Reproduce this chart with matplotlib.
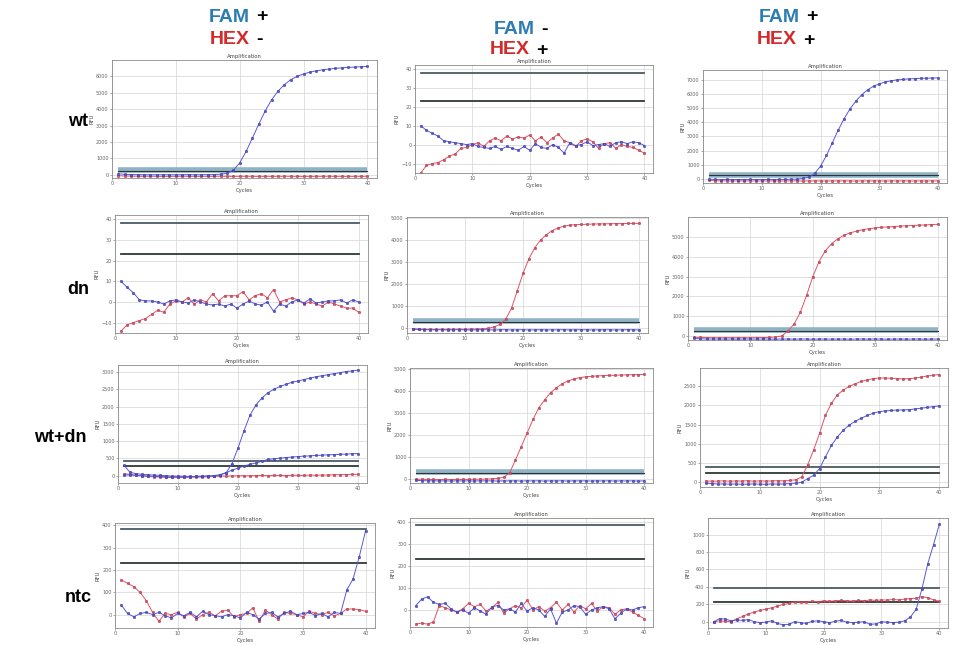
import matplotlib
matplotlib.use("Agg")
import matplotlib.pyplot as plt

# cycles 1..40
cycles = list(range(1, 41))

# ---- row "wt" ----
wt_fam_only_fam = [60, 20, 10, 5, 0, 0, -5, 0, 0, -5, 0, 5, 0, 0, 5, 10, 30, 90, 280, 720,
                   1420, 2250, 3100, 3900, 4580, 5100, 5500, 5800, 6000, 6150,
                   6260, 6340, 6400, 6450, 6490, 6520, 6550, 6570, 6590, 6610]
wt_fam_only_hex = [-60, -80, -90, -95, -100, -95, -100, -105, -100, -100, -95, -100, -100, -105, -100,
                   -100, -95, -100, -100, -100, -95, -100, -105, -100, -100, -100, -95, -100, -100, -105,
                   -100, -100, -100, -95, -100, -100, -105, -100, -100, -100]
wt_hex_only_fam = [10, 7.5, 6, 4.5, 2, 1.5, 1, 0.5, 0, 0.5, -1, -1.5, -2, -1, -2.5, -1, -2, -3, -1, -3,
                   0.5, -1.5, -2, 0, -1.5, -4.5, 1, -0.5, 0, 1.5, -0.5, 0, 0.5, -1, 1, 1.5, 0.5, 1.5, 1, -0.5]
wt_hex_only_hex = [-15, -11, -10, -9.5, -8, -6, -5, -2, -1.5, 0, 1, -1, 2, 3.5, 2, 4.5, 3, 4, 3.5, 5,
                   2, 4, 1, 3.5, 5.5, 2, 1, -1, 2, 3, 1.5, -2, 0.5, 1, -2, 0, -1, -1.5, -3, -4.5]
wt_both_fam = [-30, -50, -60, -50, -60, -55, -60, -50, -55, -60, -50, -55, -50, -45, -40, -20, 20, 110, 380, 900,
               1650, 2550, 3450, 4250, 4950, 5500, 5950, 6300, 6550, 6720,
               6850, 6940, 7000, 7040, 7070, 7090, 7110, 7120, 7130, 7140]
wt_both_hex = [-120, -140, -150, -150, -160, -150, -155, -150, -160, -150, -155, -150, -160, -155, -150,
               -150, -160, -150, -155, -150, -160, -150, -155, -150, -150, -160, -150, -155, -150, -150,
               -160, -150, -155, -150, -150, -160, -150, -155, -150, -150]

# ---- row "dn" ----
dn_fam_only_fam = [10, 7, 4.5, 1, 0.5, 0.5, 0, -1, 0.5, 1, 0, -0.5, 1, 0, -1, -1.5, -1, -2, -1, -3,
                   -1, 0.5, -1, -1.5, 0, -4.5, -1, -2, 0, 1, -0.5, 1.5, -0.5, 0, 0.5, 0.5, 1, -0.5, 1, 0]
dn_fam_only_hex = [-14, -11, -10, -9, -8, -6, -4, -5, -1, 0.5, 0, 2, -1, 1, 0, 4, 0.5, 3, 3, 3,
                   5, 1, 3, 4, 2, 6, 0, 1, 2, 1, -1, 0, -1, -2, 0, -1, -2, -3, -3, -5]
dn_hex_only_fam = [-60, -70, -80, -80, -85, -80, -90, -85, -80, -85, -90, -85, -80, -85, -90,
                   -85, -80, -90, -85, -80, -90, -85, -80, -90, -85, -85, -80, -90, -85, -80,
                   -85, -90, -85, -80, -85, -90, -85, -80, -85, -90]
dn_hex_only_hex = [-40, -50, -60, -60, -65, -60, -65, -60, -55, -60, -50, -45, -40, -20, 50,
                   160, 400, 900, 1700, 2500, 3150, 3650, 4000, 4250, 4430, 4550, 4630, 4680, 4700, 4710,
                   4720, 4730, 4735, 4740, 4745, 4750, 4750, 4755, 4760, 4760]
dn_both_fam = [-120, -140, -150, -150, -150, -155, -150, -160, -150, -150, -155, -150, -150, -160, -150,
               -150, -155, -150, -150, -160, -150, -150, -155, -150, -150, -160, -150, -150, -155, -150,
               -150, -160, -150, -150, -155, -150, -150, -160, -150, -150]
dn_both_hex = [-60, -70, -80, -80, -85, -80, -85, -80, -80, -85, -80, -75, -70, -50, 0,
               250, 600, 1200, 2050, 3000, 3750, 4300, 4650, 4900, 5080, 5200, 5290, 5360, 5410, 5450,
               5480, 5500, 5520, 5540, 5560, 5570, 5590, 5600, 5620, 5630]

# ---- row "wt+dn" ----
wd_fam_only_fam = [300, 100, 60, 40, 30, 20, 10, 0, -10, -10, -15, -20, -20, -15, -10, 0, 20, 80, 350, 800,
                   1300, 1750, 2050, 2250, 2400, 2500, 2580, 2640, 2700, 2740,
                   2780, 2820, 2860, 2890, 2920, 2950, 2980, 3010, 3030, 3050]
wd_fam_only_fam2 = [20, 20, 10, 0, -10, -20, -20, -30, -30, -30, -30, -25, -20, -15, -10, 0, 30, 90, 160, 220,
                    280, 330, 370, 420, 470, 490, 510, 525, 540, 555, 565, 575, 585, 595, 605, 610, 620, 625, 635, 640]
wd_fam_only_hex = [60, 40, 20, 0, -20, -30, -40, -50, -50, -50, -50, -45, -40, -40, -30, -20, -10, -10, -5, 0,
                   0, 0, 5, 10, 0, 10, 10, 5, 15, 10, 10, 20, 15, 20, 20, 30, 30, 35, 40, 40]
wd_hex_only_fam = [-80, -90, -100, -100, -105, -100, -110, -100, -105, -100, -110, -100, -105, -100, -110,
                   -100, -105, -100, -110, -100, -105, -100, -110, -100, -105, -100, -110, -100, -105, -100,
                   -110, -100, -105, -100, -110, -100, -105, -100, -110, -100]
wd_hex_only_hex = [-20, -30, -40, -40, -45, -40, -45, -40, -40, -35, -30, -25, -20, -10, 10,
                   60, 250, 850, 1460, 2080, 2700, 3230, 3600, 3920, 4150, 4330, 4460, 4550, 4610, 4650,
                   4670, 4690, 4700, 4710, 4720, 4730, 4740, 4745, 4750, 4760]
wd_both_fam = [-30, -40, -50, -50, -55, -50, -60, -55, -50, -55, -60, -50, -55, -50, -40,
               -30, -10, 90, 175, 350, 660, 960, 1180, 1360, 1490, 1590, 1670, 1740, 1800, 1840,
               1860, 1870, 1880, 1885, 1890, 1910, 1930, 1950, 1970, 1990]
wd_both_hex = [30, 20, 25, 30, 20, 30, 25, 35, 20, 30, 25, 30, 35, 30, 40,
               60, 130, 440, 830, 1270, 1750, 2060, 2280, 2410, 2500, 2570, 2630, 2670, 2700, 2720,
               2720, 2710, 2700, 2700, 2700, 2720, 2740, 2770, 2790, 2810]

# ---- row "ntc" ----
nt_fam_only_fam = [43, 5, -10, 5, 10, 0, 10, -5, -15, 5, -5, 10, -10, 15, 0, -5, -10, 0, -5, -15,
                   10, 0, -20, 5, 10, -10, 5, 15, 0, 5, 10, -5, 5, -10, 10, 5, 110, 160, 260, 376]
nt_fam_only_hex = [155, 140, 125, 100, 62, 10, -30, 5, 0, 10, -10, 5, -20, 0, 10, -5, 15, 20, -10, 0,
                   5, 30, -30, 20, 0, -20, 10, 5, 0, -10, 15, 5, 0, 10, -5, 5, 25, 25, 22, 15]
nt_hex_only_fam = [20, 50, 60, 35, 25, 30, 5, -10, 0, -15, 10, -5, -20, 15, 20, 0, 5, -10, 30, -5,
                   10, 0, -30, 5, -60, -10, 0, 20, 15, -20, 0, 10, 15, 5, -40, -15, 5, 0, 10, 15]
nt_hex_only_hex = [-65, -60, -65, -55, 20, 10, 0, -10, 5, 30, 15, 25, -5, 10, 35, -15, 5, 20, 10, 45,
                   0, 15, -5, 10, 35, 0, 25, -10, 20, 5, 30, -5, 15, 10, -20, 0, 5, -10, -25, -40]
nt_both_fam = [0, 36, 30, 10, 20, 15, 25, 0, -10, -5, 10, -20, -35, -30, 0, -10, -20, 5, 10, 0,
               -10, 5, 15, -5, -10, -5, 0, -30, -25, 0, -5, -10, -5, 10, 54, 144, 378, 666, 885, 1117]
nt_both_hex = [0, 10, 5, 0, 36, 60, 90, 110, 130, 144, 160, 180, 198, 210, 227, 230, 225, 235, 230, 240,
               235, 240, 245, 240, 238, 245, 240, 250, 245, 250, 248, 255, 250, 260, 265, 270, 288, 275, 250, 234]

row_names = ["wt", "dn", "wt+dn", "ntc"]

FAM_C = "#5a5ad8"
HEX_C = "#e05468"

fig = plt.figure(figsize=(9.55, 6.45), dpi=100)
W, H = 955.0, 645.0


def add_panel(box, fam_sets, hex_set, ylim, yticks, thr, band):
    l, t, r, b = box
    ax = fig.add_axes([l / W, 1 - b / H, (r - l) / W, (b - t) / H])
    ax.set_xlim(0, 41.5)
    ax.set_ylim(*ylim)
    ax.set_xticks([0, 10, 20, 30, 40])
    ax.set_yticks(yticks)
    ax.grid(True, color="#d4d4d4", lw=0.5)
    ax.tick_params(labelsize=3.5, colors="#666666", length=1.5, width=0.4, pad=1)
    for s in ax.spines.values():
        s.set_color("#8a8a8a")
        s.set_linewidth(0.6)
    # threshold lines
    if band:
        ax.plot([1, 40], [thr[0], thr[0]], color="#8db3c7", lw=4, solid_capstyle="butt")
        ax.plot([1, 40], [thr[1], thr[1]], color="#333333", lw=0.8)
    else:
        ax.plot([1, 40], [thr[0], thr[0]], color="#4b5b66", lw=1.3)
        ax.plot([1, 40], [thr[1], thr[1]], color="#2f3a35", lw=1.3)
    ax.plot(cycles, hex_set, color=HEX_C, lw=0.7, marker="o", ms=1.8,
            mfc=HEX_C, mec="#a03040", mew=0.3)
    for f in fam_sets:
        ax.plot(cycles, f, color=FAM_C, lw=0.7, marker="o", ms=1.8,
                mfc=FAM_C, mec="#303090", mew=0.3)
    ax.set_title("Amplification", fontsize=3.8, color="#444444", pad=1.5)
    ax.set_xlabel("Cycles", fontsize=3.8, color="#444444", labelpad=1)
    ax.set_ylabel("RFU", fontsize=3.8, color="#444444", labelpad=1)
    return ax


# row wt
add_panel((112, 60, 377, 178), [wt_fam_only_fam], wt_fam_only_hex, (-200, 7000), range(0, 7000, 1000), (280, 250), True)
add_panel((415, 65, 653, 173), [wt_hex_only_fam], wt_hex_only_hex, (-15, 42), range(-10, 41, 10), (38, 23), False)
add_panel((703, 70, 947, 183), [wt_both_fam], wt_both_hex, (-300, 7700), range(0, 7001, 1000), (300, 250), True)
# row dn
add_panel((115, 215, 368, 333), [dn_fam_only_fam], dn_fam_only_hex, (-15, 42), range(-10, 41, 10), (38, 23), False)
add_panel((407, 217, 648, 333), [dn_hex_only_fam], dn_hex_only_hex, (-230, 5050), range(0, 5001, 1000), (300, 250), True)
add_panel((688, 217, 947, 340), [dn_both_fam], dn_both_hex, (-200, 6000), range(0, 5001, 1000), (300, 250), True)
# row wt+dn
add_panel((118, 365, 367, 483), [wd_fam_only_fam, wd_fam_only_fam2], wd_fam_only_hex, (-210, 3200), range(0, 3001, 500), (415, 270), False)
add_panel((410, 368, 653, 483), [wd_hex_only_fam], wd_hex_only_hex, (-200, 5050), range(0, 5001, 1000), (300, 250), True)
add_panel((700, 368, 948, 487), [wd_both_fam], wd_both_hex, (-130, 2980), range(0, 2501, 500), (380, 240), False)
# row ntc
add_panel((115, 523, 375, 628), [nt_fam_only_fam], nt_fam_only_hex, (-60, 410), range(0, 401, 100), (383, 233), False)
add_panel((410, 518, 653, 627), [nt_hex_only_fam], nt_hex_only_hex, (-78, 420), range(0, 401, 100), (388, 231), False)
add_panel((708, 518, 948, 628), [nt_both_fam], nt_both_hex, (-72, 1190), range(0, 1001, 200), (388, 228), False)

# column headers
FAM_T = "#2d7db3"
HEX_T = "#d42a2a"
hdr = dict(fontsize=14, fontweight="bold", va="center", family="Liberation Sans")
headers = [(250, 17, "FAM", "+", 250, 40, "HEX", "-"),
           (535, 30, "FAM", "-", 530, 50, "HEX", "+"),
           (800, 17, "FAM", "+", 797, 40, "HEX", "+")]
for fx, fy, ft, fs, hx, hy, ht, hs in headers:
    fig.text(fx / W, 1 - fy / H, ft, color=FAM_T, ha="right", **hdr)
    fig.text((fx + 6) / W, 1 - fy / H, fs, color="black", ha="left", **hdr)
    fig.text(hx / W, 1 - hy / H, ht, color=HEX_T, ha="right", **hdr)
    fig.text((hx + 6) / W, 1 - hy / H, hs, color="black", ha="left", **hdr)

# row labels
row_pos = [(78, 122), (78, 290), (60, 438), (78, 597)]
for name, (x, y) in zip(row_names, row_pos):
    fig.text(x / W, 1 - y / H, name, fontsize=13, fontweight="bold", ha="center", va="center",
             family="Liberation Sans")

fig.savefig("out.png", dpi=100)
